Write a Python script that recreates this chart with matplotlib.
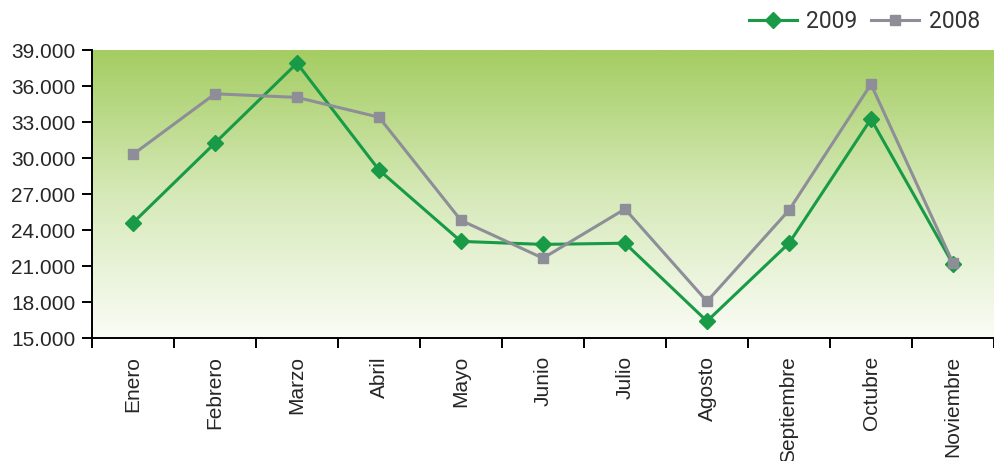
import numpy as np
import matplotlib.pyplot as plt
from matplotlib.colors import LinearSegmentedColormap
from matplotlib.ticker import FuncFormatter

months = ['Enero', 'Febrero', 'Marzo', 'Abril', 'Mayo', 'Junio', 'Julio',
          'Agosto', 'Septiembre', 'Octubre', 'Noviembre']
v2009 = [24600, 31250, 37900, 29000, 23050, 22800, 22900, 16400, 22900, 33250, 21150]
v2008 = [30300, 35350, 35050, 33400, 24800, 21650, 25750, 18050, 25650, 36150, 21250]
yticks = [15000, 18000, 21000, 24000, 27000, 30000, 33000, 36000, 39000]

green = '#189a46'
grey = '#8e8e98'
txt = '#262626'

fig = plt.figure(figsize=(9.94, 4.61), dpi=100)
ax = fig.add_axes([92 / 994, (461 - 338) / 461, 1 - 92 / 994, 288 / 461])

x = np.arange(len(months))
xlim = (-0.5, len(months) - 0.5)
ylim = (yticks[0], yticks[-1])

# background gradient, light at bottom, green at top
cmap = LinearSegmentedColormap.from_list('bg', ['#fafcf6', '#d6e9b8', '#a4cd62'])
grad = np.linspace(0, 1, 256).reshape(-1, 1)
ax.imshow(grad, cmap=cmap, origin='lower', aspect='auto',
          extent=(xlim[0], xlim[1], ylim[0], ylim[1]), zorder=0)

ax.plot(x, v2009, color=green, lw=2.2, marker='D', ms=8.5, label='2009', zorder=3)
ax.plot(x, v2008, color=grey, lw=2.2, marker='s', ms=6.5, label='2008', zorder=4)

ax.set_xlim(xlim)
ax.set_ylim(ylim)
ax.set_yticks(yticks)
ax.yaxis.set_major_formatter(FuncFormatter(lambda v, p: f'{int(v):,}'.replace(',', '.')))
ax.set_xticks(np.arange(len(months) + 1) - 0.5)
ax.set_xticklabels([])
ax.set_xticks(x, minor=True)
ax.set_xticklabels(months, minor=True, rotation=90, fontsize=15,
                   family='Liberation Sans', color=txt)
ax.tick_params(axis='x', which='minor', length=0, pad=13)
ax.tick_params(axis='x', which='major', length=7, width=1.4, direction='out')
ax.tick_params(axis='y', length=7, width=1.4, direction='out', pad=5)
for lab in ax.get_yticklabels():
    lab.set_fontsize(15)
    lab.set_family('Liberation Sans')
    lab.set_color(txt)

for s in ['top', 'right']:
    ax.spines[s].set_visible(False)
for s in ['left', 'bottom']:
    ax.spines[s].set_linewidth(1.4)
    ax.spines[s].set_zorder(5)

leg = ax.legend(loc='lower right', bbox_to_anchor=(0.992, 1.035), ncol=2, frameon=False,
                prop={'family': 'Roboto', 'size': 16.5}, handlelength=2.1,
                columnspacing=0.6, handletextpad=0.4, borderaxespad=0.0,
                borderpad=0.3)
for t in leg.get_texts():
    t.set_color('#333333')

fig.savefig('out.png', dpi=100)
